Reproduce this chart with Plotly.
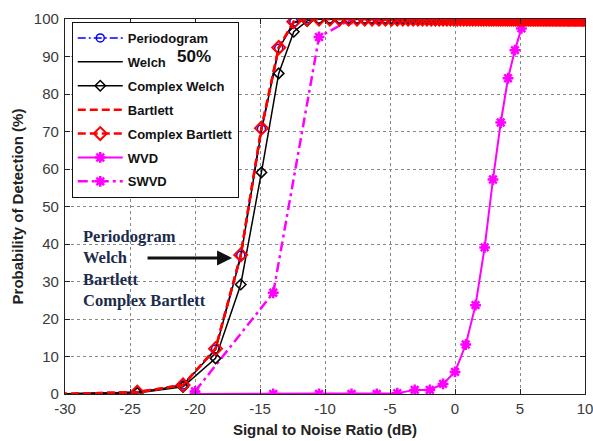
import plotly.graph_objects as go

# SNR grid (dB) for the spectral-estimator curves
snr_a = [-30.46, -24.44, -20.92, -18.42, -16.48, -14.89, -13.56, -12.40, -11.37, -10.46,
         -9.63, -8.87, -8.18, -7.54, -6.94, -6.38, -5.85, -5.35, -4.88, -4.44,
         -4.01, -3.61, -3.22, -2.85, -2.50, -2.16, -1.83, -1.51, -1.21, -0.92,
         -0.63, -0.35, -0.09, 0.17, 0.42, 0.67, 0.91, 1.14, 1.36, 1.58,
         1.80, 2.01, 2.21, 2.41, 2.61, 2.80, 2.98, 3.17, 3.35, 3.52,
         3.69, 3.86, 4.03, 4.19, 4.35, 4.51, 4.66, 4.81, 4.96, 5.11,
         5.25, 5.39, 5.53, 5.67, 5.80, 5.93, 6.06, 6.19, 6.32, 6.44,
         6.57, 6.69, 6.81, 6.93, 7.04, 7.16, 7.27, 7.38, 7.49, 7.60,
         7.71, 7.82, 7.92, 8.03, 8.13, 8.23, 8.33, 8.43, 8.53, 8.63,
         8.72, 8.82, 8.91, 9.00, 9.10, 9.19, 9.28, 9.37, 9.45, 9.54,
         9.63, 9.71, 9.80, 9.88, 9.97]
n_a = len(snr_a)

periodogram = [0, 0.5, 2.4, 12.0, 37.0, 70.7, 92.2, 99.2] + [100] * (n_a - 8)
welch = [0, 0.5, 2.3, 11.8, 36.5, 70.2, 92.0, 99.0] + [100] * (n_a - 8)
complex_welch = [0, 0.3, 1.9, 9.5, 29.2, 59.1, 85.5, 96.6, 99.5] + [100] * (n_a - 9)
bartlett = [0, 0.5, 2.4, 12.1, 37.0, 70.8, 92.3, 99.3] + [100] * (n_a - 8)
complex_bartlett = [0, 0.5, 2.4, 12.1, 37.1, 70.9, 92.4, 99.3] + [100] * (n_a - 8)

# SNR grid (dB) for the time-frequency curves
snr_b = [-20.00, -13.98, -10.46, -7.96, -6.02, -4.44, -3.10, -1.94, -0.92, 0.00,
         0.83, 1.58, 2.28, 2.92, 3.52, 4.08, 4.61, 5.11, 5.58, 6.02,
         6.44, 6.85, 7.23, 7.60, 7.96, 8.30, 8.63, 8.94, 9.25, 9.54, 9.83]
n_b = len(snr_b)
wvd = [0, 0, 0, 0, 0, 0.2, 1.1, 1.1, 2.7, 5.9, 13.2, 23.7, 39.1, 57.2, 72.4, 84.2,
       91.7, 97.5] + [100] * (n_b - 18)
swvd = [0.7, 27.0, 95.2] + [100] * (n_b - 3)

x_ticks = [-30, -25, -20, -15, -10, -5, 0, 5, 10]
y_ticks = [0, 10, 20, 30, 40, 50, 60, 70, 80, 90, 100]

fig = go.Figure()

BLUE, RED, MAG, BLK = "#0000ff", "#ff0000", "#ff00ff", "#000000"

def add(name, x, y, color, width, dash, symbol, rank, msize=8, mlw=1.5):
    marker = dict(size=msize, color=color, line=dict(color=color, width=mlw))
    mode = "lines"
    if symbol:
        marker["symbol"] = symbol
        mode = "lines+markers"
    fig.add_trace(go.Scatter(
        x=x, y=y, name=name, mode=mode, legendrank=rank, legendgroup=name,
        line=dict(color=color, width=width, dash=dash), marker=marker))

# draw order (bottom to top); legend order via legendrank
add("WVD", snr_b, wvd, MAG, 2, "solid", "asterisk-open", 6, msize=9, mlw=2.5)
add("SWVD", snr_b, swvd, MAG, 2.5, "10px,4px,3px,4px", "asterisk-open", 7, msize=9, mlw=2.5)
add("Periodogram", snr_a, periodogram, BLUE, 1.5, "8px,3px,2px,3px", "circle-open", 1, msize=8, mlw=1.5)
add("Welch", snr_a, welch, BLK, 1.5, "solid", None, 2)
add("Complex Welch", snr_a, complex_welch, BLK, 1.5, "solid", "diamond-open", 3, msize=8, mlw=1.5)
add("Bartlett", snr_a, bartlett, RED, 2.5, "8px,4px", None, 4)
add("Complex Bartlett", snr_a, complex_bartlett, RED, 2.5, "8px,4px", "diamond-open", 5, msize=10, mlw=2)

axis_common = dict(
    showline=True, linecolor="#222", linewidth=1.2, mirror="allticks",
    ticks="inside", ticklen=5, tickcolor="#222",
    showgrid=True, gridcolor="#888", griddash="dot", gridwidth=1,
    zeroline=False, automargin=False, ticklabeloverflow="allow",
    tickfont=dict(family="Liberation Sans, Arial", size=15, color="#3a3a3a"),
)

fig.update_xaxes(range=[-30, 10], tickvals=x_ticks, ticktext=[str(v) for v in x_ticks],
                 ticklabelstandoff=1,
                 title=dict(text="<b>Signal to Noise Ratio (dB)</b>", standoff=8,
                            font=dict(family="Liberation Sans, Arial", size=15, color="#222")),
                 **axis_common)
fig.update_yaxes(range=[0, 100], tickvals=y_ticks, ticktext=[str(v) for v in y_ticks],
                 ticklabelstandoff=2,
                 title=dict(text="<b>Probability of Detection (%)</b>", standoff=6,
                            font=dict(family="Liberation Sans, Arial", size=15, color="#222")),
                 **axis_common)

fig.add_annotation(x=0.248, y=0.9, xref="paper", yref="paper", text="<b>50%</b>",
                   showarrow=False, xanchor="center", yanchor="middle",
                   font=dict(family="Liberation Sans, Arial", size=17, color="#111"))

fig.add_annotation(x=0.03, y=0.452, xref="paper", yref="paper",
                   text="<b>Periodogram<br>Welch<br>Bartlett<br>Complex Bartlett</b>",
                   showarrow=False, xanchor="left", yanchor="top", align="left",
                   font=dict(family="Liberation Serif, Times New Roman", size=16.5, color="#1c2b4a"))

fig.add_annotation(x=-17.15, y=36.3, xref="x", yref="y", text="",
                   showarrow=True, ax=-86, ay=0, arrowhead=2, arrowsize=1.0,
                   arrowwidth=3, arrowcolor="#111")

fig.update_layout(
    width=593, height=441,
    margin=dict(l=65, r=8, t=19, b=47),
    paper_bgcolor="white", plot_bgcolor="white",
    showlegend=True,
    legend=dict(x=0.013, y=0.992, xanchor="left", yanchor="top",
                bgcolor="white", bordercolor="#111", borderwidth=1,
                font=dict(family="Liberation Sans, Arial", size=13, color="#111", weight="bold"),
                itemwidth=45, tracegroupgap=4, traceorder="grouped"),
)

fig.write_html("out.html")
